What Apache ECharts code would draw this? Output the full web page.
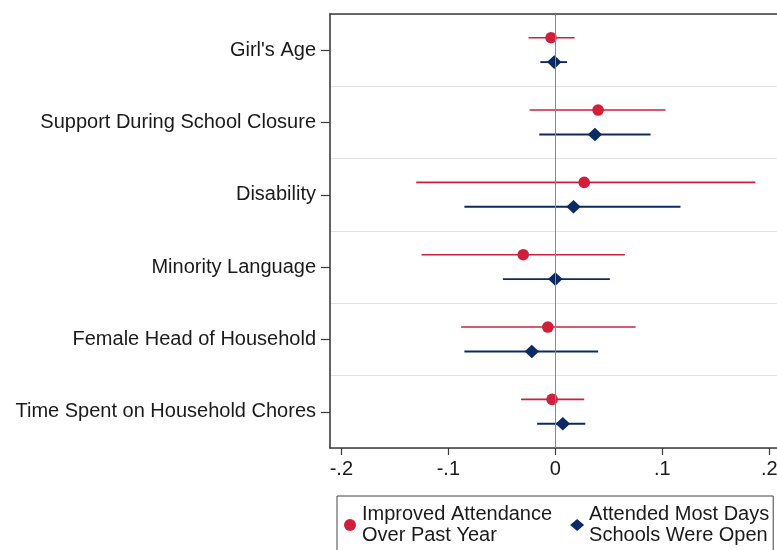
<!DOCTYPE html>
<html>
<head>
<meta charset="utf-8">
<script src="https://cdn.jsdelivr.net/npm/echarts@6/dist/echarts.min.js"></script>
<style>
  html, body { margin: 0; padding: 0; background: #fff; }
  #chart { width: 777px; height: 550px; }
</style>
</head>
<body>
<div id="chart"></div>
<script>
// Covariates, top to bottom
const categories = [
  "Girl's Age",
  'Support During School Closure',
  'Disability',
  'Minority Language',
  'Female Head of Household',
  'Time Spent on Household Chores'
];

const seriesNames = [
  'Improved Attendance\nOver Past Year',
  'Attended Most Days\nSchools Were Open'
];

// Point estimates and 95% confidence bounds per covariate
const attendanceEst = [-0.004, 0.040, 0.027, -0.030, -0.007, -0.003];
const attendanceLow = [-0.025, -0.024, -0.130, -0.125, -0.088, -0.032];
const attendanceHigh = [0.018, 0.103, 0.187, 0.065, 0.075, 0.027];

const openDaysEst = [-0.001, 0.037, 0.017, 0.000, -0.022, 0.007];
const openDaysLow = [-0.014, -0.015, -0.085, -0.049, -0.085, -0.017];
const openDaysHigh = [0.011, 0.089, 0.117, 0.051, 0.040, 0.028];

// x-axis ticks and their labels
const xTickValues = [-0.2, -0.1, 0, 0.1, 0.2];
const xTickLabels = ['-.2', '-.1', '0', '.1', '.2'];

const X_MIN = -0.2106;
const X_MAX = 0.2072;

const FONT = "'Liberation Sans', Arial, Helvetica, sans-serif";
const RED = '#cf1f3b';
const NAVY = '#0b2a64';
const FRAME = '#3a3a3a';

function rows(est, low, high) {
  return categories.map((c, i) => [i, est[i], low[i], high[i]]);
}

// Draws a horizontal CI bar plus marker, shifted within the category band
function coefRenderer(shift, marker, color, barWidth) {
  return function (params, api) {
    const cat = api.value(0);
    const c = api.coord([api.value(1), cat]);
    const band = api.size([0, 1])[1];
    const y = c[1] + shift * band;
    const x0 = api.coord([api.value(2), cat])[0];
    const x1 = api.coord([api.value(3), cat])[0];
    const children = [{
      type: 'line',
      shape: { x1: x0, y1: y, x2: x1, y2: y },
      style: { stroke: color, lineWidth: barWidth }
    }];
    if (marker === 'circle') {
      children.push({
        type: 'circle',
        shape: { cx: c[0], cy: y, r: 5.8 },
        style: { fill: color }
      });
    } else {
      const w = 7.2, h = 6.8;
      children.push({
        type: 'polygon',
        shape: { points: [[c[0], y - h], [c[0] + w, y], [c[0], y + h], [c[0] - w, y]] },
        style: { fill: color }
      });
    }
    return { type: 'group', children: children };
  };
}

const chart = echarts.init(document.getElementById('chart'), null, { renderer: 'canvas' });

chart.setOption({
  animation: false,
  backgroundColor: '#ffffff',
  textStyle: { fontFamily: FONT },
  grid: { left: 330, top: 14, bottom: 102, right: 0, outerBoundsMode: 'none', containLabel: false },
  xAxis: [
    {
      type: 'value',
      position: 'bottom',
      min: X_MIN, max: X_MAX,
      axisLine: { show: true, onZero: false, lineStyle: { color: FRAME, width: 1.6 } },
      axisTick: { show: true, length: 7, customValues: xTickValues, lineStyle: { color: FRAME, width: 1.2 } },
      axisLabel: {
        customValues: xTickValues,
        formatter: v => {
          const i = xTickValues.findIndex(t => Math.abs(t - v) < 1e-9);
          return i >= 0 ? xTickLabels[i] : '';
        },
        fontSize: 20, color: '#1a1a1a', fontFamily: FONT, margin: 11
      },
      splitLine: { show: false }
    },
    {
      // top edge of the plot frame
      type: 'value',
      position: 'top',
      min: X_MIN, max: X_MAX,
      axisLine: { show: true, onZero: false, lineStyle: { color: FRAME, width: 1.6 } },
      axisTick: { show: false },
      axisLabel: { show: false },
      splitLine: { show: false }
    }
  ],
  yAxis: {
    type: 'category',
    data: categories,
    inverse: true,
    boundaryGap: true,
    axisLine: { show: true, onZero: false, lineStyle: { color: FRAME, width: 1.6 } },
    axisTick: { show: true, alignWithLabel: true, length: 9, lineStyle: { color: FRAME, width: 1.2 } },
    axisLabel: { fontSize: 20, color: '#1a1a1a', fontFamily: FONT, margin: 14 },
    splitLine: { show: true, lineStyle: { color: '#e2e2e2', width: 1 } }
  },
  legend: {
    left: 337, top: 496,
    orient: 'horizontal',
    selectedMode: false,
    data: [
      { name: seriesNames[0], icon: 'circle' },
      { name: seriesNames[1], icon: 'diamond' }
    ],
    itemWidth: 14, itemHeight: 12, itemGap: 18,
    padding: [8, 4, 14, 7],
    borderColor: '#444', borderWidth: 1,
    backgroundColor: '#ffffff',
    textStyle: { fontSize: 20, lineHeight: 21, color: '#1a1a1a', fontFamily: FONT }
  },
  series: [
    {
      // zero reference line
      type: 'line',
      data: [],
      z: 1,
      silent: true,
      markLine: {
        silent: true,
        symbol: 'none',
        label: { show: false },
        lineStyle: { color: '#8a8a8a', width: 1, type: 'solid' },
        data: [{ xAxis: 0 }]
      }
    },
    {
      name: seriesNames[0],
      type: 'custom',
      z: 3,
      itemStyle: { color: RED },
      encode: { x: [1, 2, 3], y: 0 },
      data: rows(attendanceEst, attendanceLow, attendanceHigh),
      renderItem: coefRenderer(-0.172, 'circle', RED, 1.6)
    },
    {
      name: seriesNames[1],
      type: 'custom',
      z: 3,
      itemStyle: { color: NAVY },
      encode: { x: [1, 2, 3], y: 0 },
      data: rows(openDaysEst, openDaysLow, openDaysHigh),
      renderItem: coefRenderer(0.165, 'diamond', NAVY, 1.9)
    }
  ]
});
</script>
</body>
</html>
